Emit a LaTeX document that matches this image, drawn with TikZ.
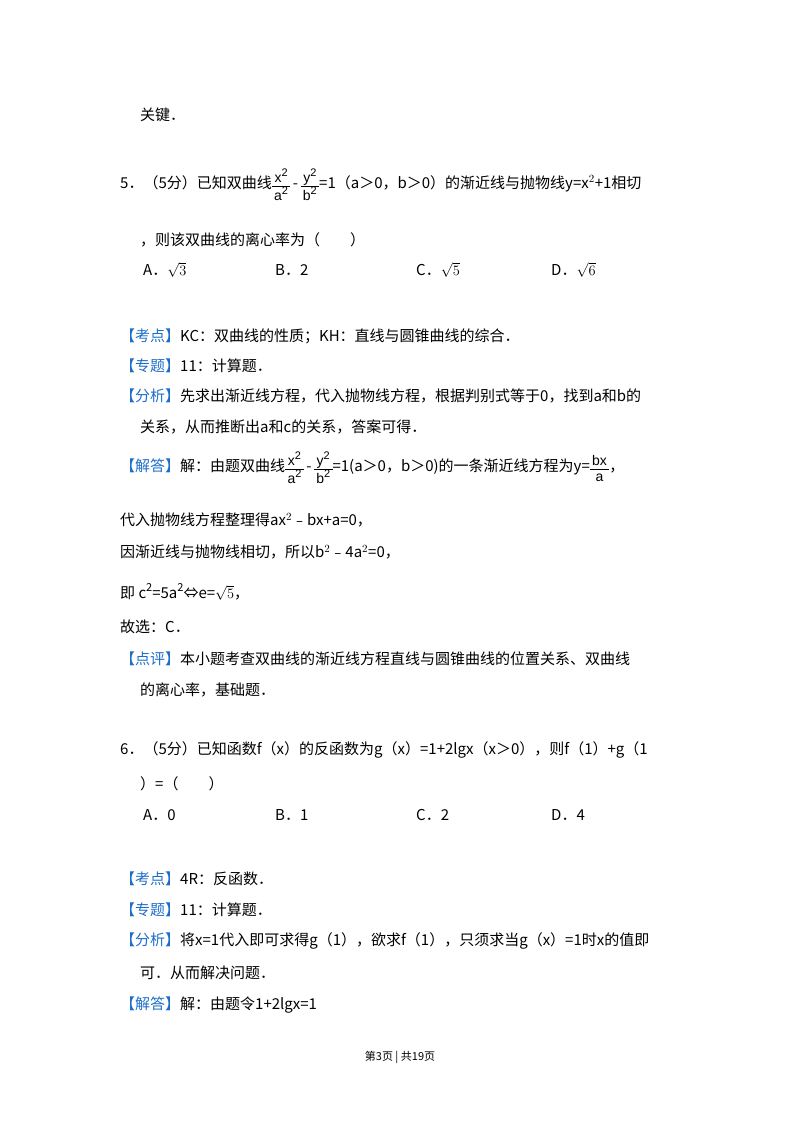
\documentclass[tikz,border=0pt]{standalone}
\usepackage{amsmath}
\usepackage{fontspec}
\setmainfont{Noto Sans CJK SC}
\newfontfamily\mathish{Liberation Sans}
\definecolor{kblue}{RGB}{30,110,200}
\newcommand{\kd}[1]{\textcolor{kblue}{【#1】}}
\newcommand{\sq}{\raisebox{0.8ex}{\fontsize{11}{11}\selectfont 2}}
\newcommand{\fr}[2]{\raisebox{-0.3ex}{\mathish\fontsize{14}{14}\selectfont\renewcommand{\arraystretch}{1.25}\begin{tabular}{@{\,}c@{\,}}#1\\[-1pt]\hline #2\end{tabular}}}
\begin{document}
\begin{tikzpicture}[x=1pt,y=-1pt,every node/.style={anchor=west,inner sep=0pt,font=\fontsize{15}{18}\selectfont}]
\useasboundingbox (0,0) rectangle (800,1132);
\node (l1) at (140,115) {关键．};
\node (q5) at (120,187) {5．（5分）已知双曲线\fr{x\sq}{a\sq}\,-\,\fr{y\sq}{b\sq}=1（a＞0，b＞0）的渐近线与抛物线y=x$^2$+1相切};
\node (q5b) at (140,240) {，则该双曲线的离心率为（　　）};
\node (a5) at (143,270) {A．$\sqrt{3}$};
\node (b5) at (275,270) {B．2};
\node (c5) at (416,270) {C．$\sqrt{5}$};
\node (d5) at (551,270) {D．$\sqrt{6}$};
\node (k1) at (120,336) {\kd{考点}KC：双曲线的性质；KH：直线与圆锥曲线的综合．};
\node (z1) at (120,366) {\kd{专题}11：计算题．};
\node (f1) at (120,396) {\kd{分析}先求出渐近线方程，代入抛物线方程，根据判别式等于0，找到a和b的};
\node (f1b) at (140,427) {关系，从而推断出a和c的关系，答案可得．};
\node (j1) at (120,470) {\kd{解答}解：由题双曲线\fr{x\sq}{a\sq}\,-\,\fr{y\sq}{b\sq}=1(a＞0，b＞0)的一条渐近线方程为y=\fr{bx}{a}，};
\node (s1) at (120,520) {代入抛物线方程整理得ax$^2$﹣bx+a=0，};
\node (s2) at (120,552) {因渐近线与抛物线相切，所以b$^2$﹣4a$^2$=0，};
\node (s3) at (120,592) {即 c\sq=5a\sq⇔e=$\sqrt{5}$，};
\node (s4) at (120,627) {故选：C．};
\node (p1) at (120,659) {\kd{点评}本小题考查双曲线的渐近线方程直线与圆锥曲线的位置关系、双曲线};
\node (p1b) at (140,690) {的离心率，基础题．};
\node (q6) at (120,750) {6．（5分）已知函数f（x）的反函数为g（x）=1+2lgx（x＞0），则f（1）+g（1};
\node (q6b) at (140,784) {）=（　　）};
\node (a6) at (143,815) {A．0};
\node (b6) at (275,815) {B．1};
\node (c6) at (416,815) {C．2};
\node (d6) at (551,815) {D．4};
\node (k2) at (120,879) {\kd{考点}4R：反函数．};
\node (z2) at (120,910) {\kd{专题}11：计算题．};
\node (f2) at (120,941) {\kd{分析}将x=1代入即可求得g（1），欲求f（1），只须求当g（x）=1时x的值即};
\node (f2b) at (140,973) {可．从而解决问题．};
\node (j2) at (120,1005) {\kd{解答}解：由题令1+2lgx=1};
\node[anchor=center,font=\fontsize{11}{13}\selectfont] (ft) at (400,1057) {第3页 | 共19页};
\end{tikzpicture}
\end{document}
